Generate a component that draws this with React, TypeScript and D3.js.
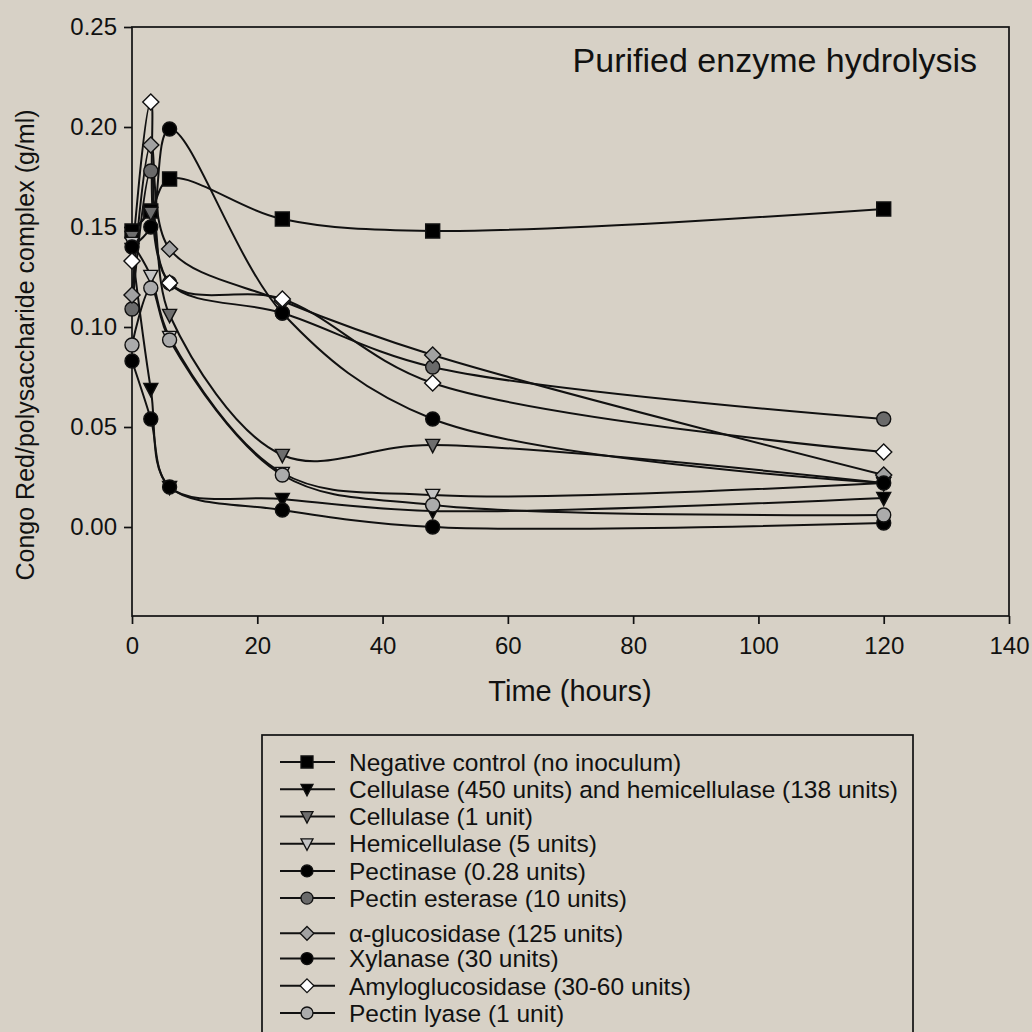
import React, { useEffect, useRef } from "react";
import * as d3 from "d3";

// sampling times (hours)
const hours = [0, 3, 6, 24, 48, 120];

// Congo Red / polysaccharide complex (g/ml)
const negativeControl = [0.148, 0.158, 0.174, 0.154, 0.148, 0.159];
const cellulaseHemi = [0.139, 0.069, 0.020, 0.014, 0.008, 0.0145];
const cellulase1 = [0.145, 0.157, 0.106, 0.036, 0.041, 0.022];
const hemicellulase = [0.142, 0.1255, 0.095, 0.027, 0.016, 0.022];
const pectinase = [0.083, 0.054, 0.020, 0.0085, 0.0, 0.002];
const pectinEsterase = [0.109, 0.178, 0.122, 0.107, 0.080, 0.054];
const alphaGlucosidase = [0.116, 0.191, 0.139, 0.113, 0.086, 0.026];
const xylanase = [0.140, 0.150, 0.199, 0.107, 0.054, 0.022];
const amyloglucosidase = [0.133, 0.2125, 0.122, 0.114, 0.072, 0.0375];
const pectinLyase = [0.091, 0.1195, 0.0935, 0.026, 0.011, 0.006];

const seriesNames = [
  "Negative control (no inoculum)",
  "Cellulase (450 units) and hemicellulase (138 units)",
  "Cellulase (1 unit)",
  "Hemicellulase (5 units)",
  "Pectinase (0.28 units)",
  "Pectin esterase (10 units)",
  "\u03b1-glucosidase (125 units)",
  "Xylanase (30 units)",
  "Amyloglucosidase (30-60 units)",
  "Pectin lyase (1 unit)",
];
const seriesValues = [
  negativeControl, cellulaseHemi, cellulase1, hemicellulase, pectinase,
  pectinEsterase, alphaGlucosidase, xylanase, amyloglucosidase, pectinLyase,
];
const seriesShapes = ["square", "triangle", "triangle", "triangle", "circle", "circle", "diamond", "circle", "diamond", "circle"];
const seriesFills = ["#000", "#000", "#6e6e6e", "#c4c4c4", "#000", "#6a6a6a", "#a2a2a2", "#000", "#fff", "#ababab"];

const xTicks = [0, 20, 40, 60, 80, 100, 120, 140];
const yTicks = [0, 0.05, 0.1, 0.15, 0.2, 0.25];

const FONT = "'Liberation Sans', Arial, sans-serif";

function markerPath(shape: string, s: number) {
  const h = s / 2;
  if (shape === "square") return `M${-h},${-h}H${h}V${h}H${-h}Z`;
  if (shape === "triangle") return `M${-h},${-h * 0.8}H${h}L0,${h * 1.1}Z`;
  if (shape === "diamond") return `M0,${-h * 1.15}L${h * 1.15},0L0,${h * 1.15}L${-h * 1.15},0Z`;
  return d3.symbol(d3.symbolCircle, (Math.PI * h * h))() as string;
}

export default function App() {
  const ref = useRef<SVGSVGElement>(null);

  useEffect(() => {
    const svg = d3.select(ref.current);
    svg.selectAll("*").remove();

    svg.append("rect").attr("width", 1032).attr("height", 1032).attr("fill", "#d7d1c6");

    const x = d3.scaleLinear().domain([0, 140]).range([132, 1009]);
    const y = d3.scaleLinear().domain([-0.0445, 0.25]).range([616, 27]);

    const g = svg.append("g");

    // frame
    g.append("rect")
      .attr("x", 132).attr("y", 27).attr("width", 1009 - 132).attr("height", 616 - 27)
      .attr("fill", "none").attr("stroke", "#111").attr("stroke-width", 1.7);

    const xAxis = g.append("g").attr("transform", "translate(0,616)")
      .call(d3.axisBottom(x).tickValues(xTicks).tickSize(8).tickPadding(13).tickFormat(d3.format("d")));
    const yAxis = g.append("g").attr("transform", "translate(132,0)")
      .call(d3.axisLeft(y).tickValues(yTicks).tickSize(8).tickPadding(7).tickFormat(d3.format(".2f")));
    [xAxis, yAxis].forEach(a => {
      a.select(".domain").remove();
      a.selectAll(".tick line").attr("stroke", "#111").attr("stroke-width", 1.7);
      a.selectAll(".tick text").attr("font-family", FONT).attr("font-size", 24).attr("fill", "#111");
    });

    g.append("text").attr("x", 570).attr("y", 701).attr("text-anchor", "middle")
      .attr("font-family", FONT).attr("font-size", 29).attr("fill", "#111").text("Time (hours)");
    g.append("text").attr("transform", "translate(34,345) rotate(-90)").attr("text-anchor", "middle")
      .attr("font-family", FONT).attr("font-size", 25).attr("fill", "#111")
      .text("Congo Red/polysaccharide complex (g/ml)");
    g.append("text").attr("x", 977).attr("y", 72).attr("text-anchor", "end")
      .attr("font-family", FONT).attr("font-size", 34).attr("fill", "#111").text("Purified enzyme hydrolysis");

    const line = d3.line<number>()
      .x((d, i) => x(hours[i]))
      .y(d => y(d))
      .curve(d3.curveCatmullRom.alpha(0.5));

    const plot = g.append("g");
    seriesValues.forEach(vals => {
      plot.append("path").attr("d", line(vals)).attr("fill", "none")
        .attr("stroke", "#111").attr("stroke-width", 2);
    });
    seriesValues.forEach((vals, k) => {
      plot.append("g").selectAll("path")
        .data(vals)
        .join("path")
        .attr("transform", (d, i) => `translate(${x(hours[i])},${y(d)})`)
        .attr("d", markerPath(seriesShapes[k], 14))
        .attr("fill", seriesFills[k])
        .attr("stroke", "#111").attr("stroke-width", 1.4);
    });

    // legend
    const legend = svg.append("g");
    legend.append("rect").attr("x", 262).attr("y", 735).attr("width", 651).attr("height", 320)
      .attr("fill", "none").attr("stroke", "#111").attr("stroke-width", 1.7);
    const rowY = d3.scaleLinear().domain([0, 9]).range([762, 1007]);
    seriesNames.forEach((name, k) => {
      const cy = rowY(k) + (k >= 6 ? 8 : 0) - (k >= 7 ? 2 : 0);
      const row = legend.append("g").attr("transform", `translate(0,${cy})`);
      row.append("line").attr("x1", 280).attr("x2", 335).attr("stroke", "#111").attr("stroke-width", 2);
      row.append("path").attr("transform", "translate(307,0)")
        .attr("d", markerPath(seriesShapes[k], 12))
        .attr("fill", seriesFills[k]).attr("stroke", "#111").attr("stroke-width", 1.3);
      row.append("text").attr("x", 349).attr("y", 0).attr("dy", "0.36em")
        .attr("font-family", FONT).attr("font-size", 24.5).attr("fill", "#111").text(name);
    });
  }, []);

  return (
    <div style={{ position: "absolute", left: 0, top: 0 }}>
      <svg ref={ref} width={1032} height={1032} style={{ display: "block" }} />
    </div>
  );
}
